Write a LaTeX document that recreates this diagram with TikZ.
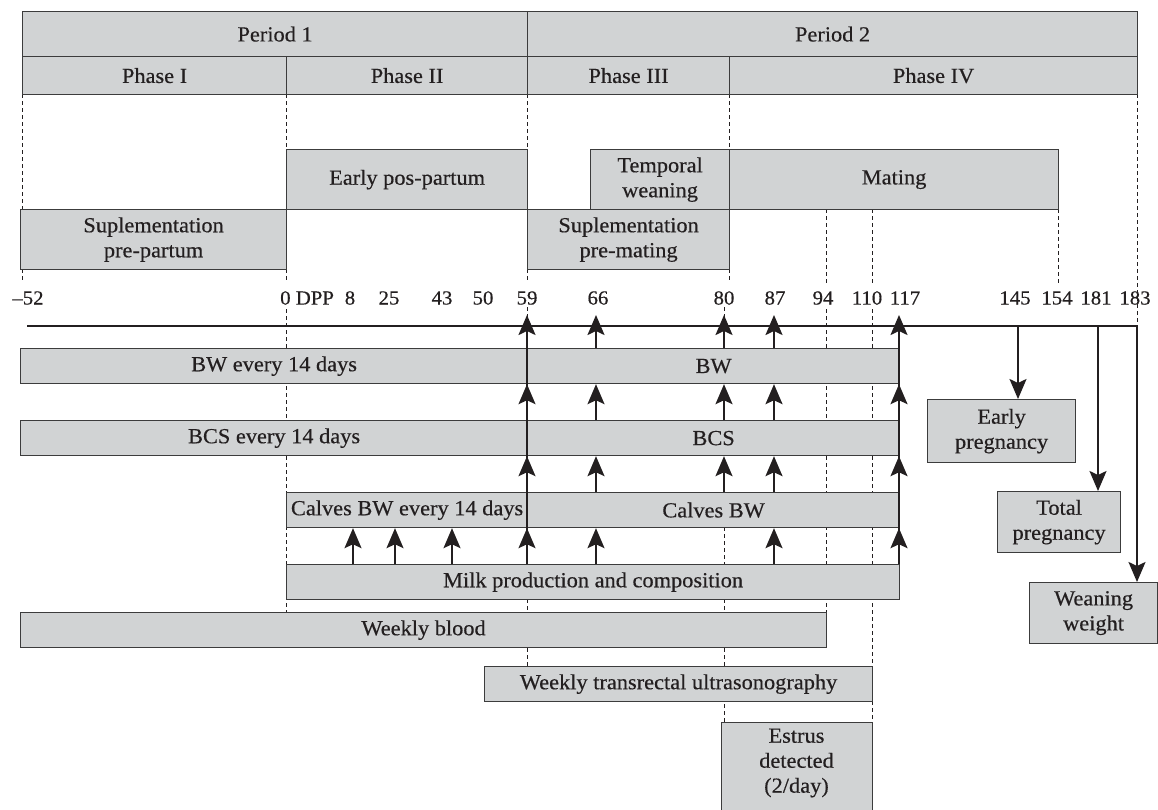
\documentclass[tikz,border=0pt]{standalone}
\usepackage{fontspec}
\setmainfont{Liberation Serif}[FakeStretch=1.04,FakeBold=0.4]
\usetikzlibrary{arrows.meta,calc}
\definecolor{boxfill}{RGB}{209,211,212}
\definecolor{boxline}{RGB}{60,60,60}
\definecolor{ink}{RGB}{35,31,32}
\newcommand{\lbl}{\fontsize{21.5bp}{25bp}\selectfont}
\newcommand{\ticklbl}{\fontsize{20bp}{24bp}\selectfont}
\tikzset{
  box/.style={draw=boxline, fill=boxfill, line width=1.2bp, inner sep=0pt, text=ink, align=center, font=\lbl},
  arr/.style={line width=2bp, draw=ink, line join=miter, -{Stealth[length=20bp,width=17bp,inset=4bp]}},
  stem/.style={line width=2bp, draw=ink},
  guide/.style={line width=1bp, draw=ink, dash pattern=on 4bp off 3bp},
  tick/.style={text=ink, font=\ticklbl, inner sep=0pt},
  plain/.style={text=ink, font=\lbl, inner sep=0pt, align=center},
}
\newcommand{\mkbox}[6]{%
  \pgfmathsetmacro{\bxw}{#4-#2}\pgfmathsetmacro{\bxh}{#5-#3}%
  \node[box, minimum width=\bxw bp, minimum height=\bxh bp, anchor=north west] (#1) at (#2,#3) {#6};}
\begin{document}
\begin{tikzpicture}[x=1bp,y=-1bp]
\clip (0,0) rectangle (1158,810);
\fill[white] (0,0) rectangle (1158,810);
% dashed guide lines
\draw[guide] (22,94) -- (22,209) (22,269) -- (22,281);
\draw[guide] (286,94) -- (286,149) (286,269) -- (286,283) (286,309) -- (286,612);
\draw[guide] (527,94) -- (527,149) (527,269) -- (527,283) (527,307) -- (527,320) (527,599) -- (527,666);
\draw[guide] (729,94) -- (729,149) (729,269) -- (729,283);
\draw[guide] (724,307) -- (724,326) (724,527) -- (724,564) (724,599) -- (724,722);
\draw[guide] (826,209) -- (826,283) (826,309) -- (826,612);
\draw[guide] (872,209) -- (872,283) (872,309) -- (872,722);
\draw[guide] (1058,209) -- (1058,283);
\draw[guide] (1137,94) -- (1137,326);
% header
\mkbox{per1}{22}{11}{527}{56}{Period 1}
\mkbox{per2}{527}{11}{1137}{56}{Period 2}
\mkbox{ph1}{22}{56}{286}{94}{Phase I}
\mkbox{ph2}{286}{56}{527}{94}{Phase II}
\mkbox{ph3}{527}{56}{729}{94}{Phase III}
\mkbox{ph4}{729}{56}{1137}{94}{Phase IV}
% periods of treatment
\mkbox{early}{286}{149}{527}{209}{Early pos-partum}
\mkbox{temp}{590}{149}{729}{209}{Temporal\\weaning}
\mkbox{mating}{729}{149}{1058}{209}{Mating}
\mkbox{suppre}{20}{209}{286}{269}{Suplementation\\pre-partum}
\mkbox{supmat}{527}{209}{729}{269}{Suplementation\\pre-mating}
% tick labels
\node[tick] (lm52) at (28,298) {–52};
\node[tick, anchor=west] (l0) at (280,298) {0 DPP};
\node[tick] (l8) at (350,298) {8};
\node[tick] (l25) at (389,298) {25};
\node[tick] (l43) at (442,298) {43};
\node[tick] (l50) at (483,298) {50};
\node[tick] (l59) at (527,298) {59};
\node[tick] (l66) at (598,298) {66};
\node[tick] (l80) at (724,298) {80};
\node[tick] (l87) at (775,298) {87};
\node[tick] (l94) at (823,298) {94};
\node[tick] (l110) at (867,298) {110};
\node[tick] (l117) at (905,298) {117};
\node[tick] (l145) at (1015,298) {145};
\node[tick] (l154) at (1057,298) {154};
\node[tick] (l181) at (1096,298) {181};
\node[tick] (l183) at (1135,298) {183};
% measurement boxes
\mkbox{bw1}{20}{348}{527}{383}{BW every 14 days}
\mkbox{bw2}{527}{348}{899}{383}{BW}
\mkbox{bcs1}{20}{420}{527}{455}{BCS every 14 days}
\mkbox{bcs2}{527}{420}{899}{455}{BCS}
\mkbox{cal1}{286}{492}{527}{527}{Calves BW every 14 days}
\mkbox{cal2}{527}{492}{899}{527}{Calves BW}
\mkbox{milk}{286}{564}{899}{599}{Milk production and composition}
\mkbox{blood}{20}{612}{826}{647}{Weekly blood}
\mkbox{trus}{484}{666}{872}{701}{Weekly transrectal ultrasonography}
\mkbox{estrus}{721}{722}{872}{840}{}
\node[plain] (estrustxt) at (796.5,763) {Estrus\\detected\\(2/day)};
\mkbox{epreg}{927}{399}{1075}{462}{Early\\pregnancy}
\mkbox{tpreg}{997}{491}{1120}{552}{Total\\pregnancy}
\mkbox{wean}{1029}{582}{1157}{643}{Weaning\\weight}
% coordinates
\coordinate (axL) at (27,326);
\coordinate (ax145) at (1018,326);
\coordinate (ax181) at (1098,326);
\coordinate (ax183) at (1137,326);
\coordinate (t59) at (527,315);
\coordinate (t66) at (596,315);
\coordinate (t80) at (724,315);
\coordinate (t87) at (774,315);
\coordinate (t117) at (899,315);
\coordinate (c8) at (353,0);
\coordinate (c25) at (395,0);
\coordinate (c43) at (452,0);
% time axis
\draw[arr] (axL) -- (ax183) -- (wean.north -| ax183);
\draw[arr] (ax145) -- (epreg.north -| ax145);
\draw[arr] (ax181) -- (tpreg.north -| ax181);
% continuous stems through boxes
\draw[stem] (milk.north -| t59) -- ($(t59)+(0,8)$);
\draw[stem] (milk.north -| t117) -- ($(t117)+(0,8)$);
% measurement arrows
\foreach \k in {59,66,80,87,117}{
  \draw[arr] (bw2.north -| t\k) -- (t\k);
  \draw[arr] (bcs2.north -| t\k) -- (bw2.south -| t\k);
  \draw[arr] (cal2.north -| t\k) -- (bcs2.south -| t\k);
}
\foreach \k in {59,66,87,117}{
  \draw[arr] (milk.north -| t\k) -- (cal2.south -| t\k);
}
\foreach \k in {8,25,43}{
  \draw[arr] (milk.north -| c\k) -- (cal1.south -| c\k);
}
\end{tikzpicture}
\end{document}
